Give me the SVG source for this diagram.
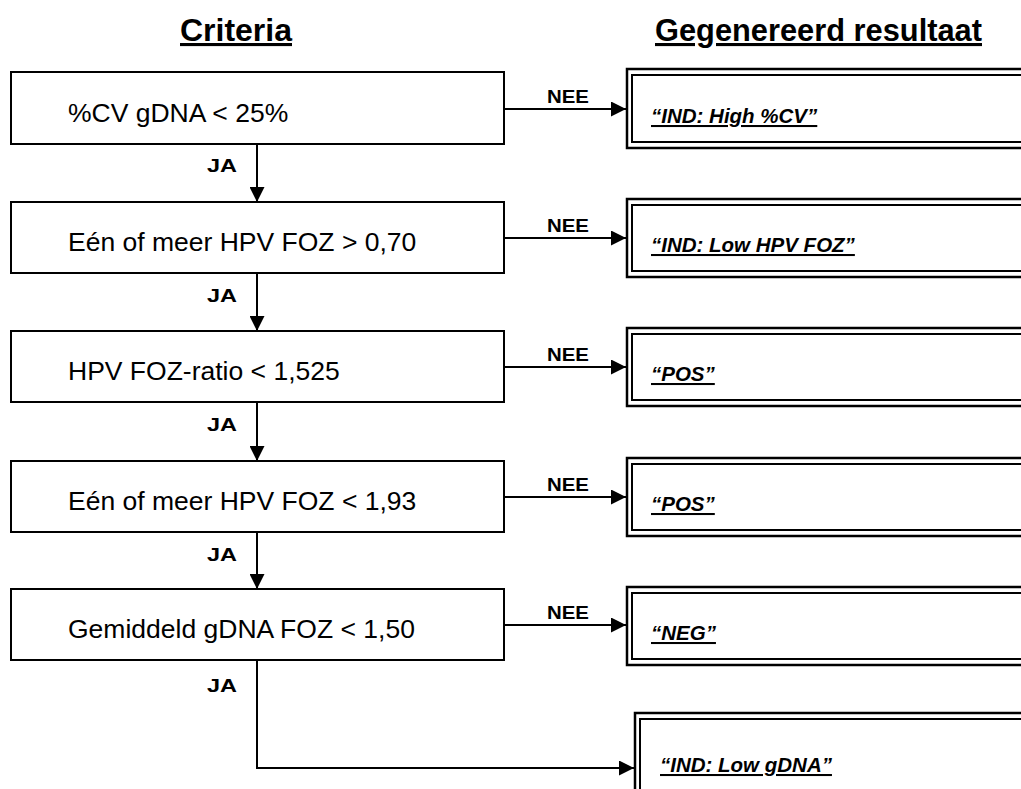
<svg xmlns="http://www.w3.org/2000/svg" width="1021" height="789" viewBox="0 0 1021 789">
  <defs>
    <marker id="arrow" viewBox="0 0 10 10" refX="10" refY="5" markerWidth="7.5" markerHeight="7.5" markerUnits="strokeWidth" orient="auto">
      <path d="M0,0 L10,5 L0,10 Z" fill="#000"/>
    </marker>
    <style>
      .crit { fill: #fff; stroke: #000; stroke-width: 2; }
      .res-out { fill: #fff; stroke: #000; stroke-width: 2.5; }
      .res-in { fill: none; stroke: #000; stroke-width: 2; }
      .head { font-family: "Liberation Sans", Arial, sans-serif; font-weight: bold; font-size: 31px; text-decoration: underline; }
      .ctext { font-family: "Liberation Sans", Arial, sans-serif; font-size: 26.5px; }
      .rtext { font-family: "Liberation Sans", Arial, sans-serif; font-weight: bold; font-style: italic; font-size: 20.5px; text-decoration: underline; }
      .lbl { font-family: "Liberation Sans", Arial, sans-serif; font-weight: bold; font-size: 18.5px; }
      .conn { fill: none; stroke: #000; stroke-width: 2; marker-end: url(#arrow); }
    </style>
  </defs>
  <rect width="1021" height="789" fill="#fff"/>

  <!-- column headings -->
  <g id="headings">
    <text class="head" x="180" y="41" textLength="112" lengthAdjust="spacingAndGlyphs">Criteria</text>
    <text class="head" x="655" y="41" textLength="327" lengthAdjust="spacingAndGlyphs">Gegenereerd resultaat</text>
  </g>

  <!-- connectors -->
  <g id="connectors">
    <line class="conn" x1="257" y1="144" x2="257" y2="202"/>
    <line class="conn" x1="257" y1="273" x2="257" y2="331"/>
    <line class="conn" x1="257" y1="402" x2="257" y2="461"/>
    <line class="conn" x1="257" y1="532" x2="257" y2="589"/>
    <polyline class="conn" points="257,660 257,768 634,768"/>
    <line class="conn" x1="504" y1="109" x2="626" y2="109"/>
    <line class="conn" x1="504" y1="238" x2="626" y2="238"/>
    <line class="conn" x1="504" y1="367" x2="626" y2="367"/>
    <line class="conn" x1="504" y1="497" x2="626" y2="497"/>
    <line class="conn" x1="504" y1="625" x2="626" y2="625"/>
    <text class="lbl" x="207" y="172" textLength="30" lengthAdjust="spacingAndGlyphs">JA</text>
    <text class="lbl" x="207" y="302" textLength="30" lengthAdjust="spacingAndGlyphs">JA</text>
    <text class="lbl" x="207" y="431" textLength="30" lengthAdjust="spacingAndGlyphs">JA</text>
    <text class="lbl" x="207" y="561" textLength="30" lengthAdjust="spacingAndGlyphs">JA</text>
    <text class="lbl" x="207" y="692" textLength="30" lengthAdjust="spacingAndGlyphs">JA</text>
    <text class="lbl" x="547" y="103" textLength="42" lengthAdjust="spacingAndGlyphs">NEE</text>
    <text class="lbl" x="547" y="232" textLength="42" lengthAdjust="spacingAndGlyphs">NEE</text>
    <text class="lbl" x="547" y="361" textLength="42" lengthAdjust="spacingAndGlyphs">NEE</text>
    <text class="lbl" x="547" y="491" textLength="42" lengthAdjust="spacingAndGlyphs">NEE</text>
    <text class="lbl" x="547" y="619" textLength="42" lengthAdjust="spacingAndGlyphs">NEE</text>
  </g>

  <!-- criteria -->
  <g id="crit-cv">
    <rect class="crit" x="11" y="72" width="493" height="72"/>
    <text class="ctext" x="68" y="122">%CV gDNA &lt; 25%</text>
  </g>
  <g id="crit-hpv-min">
    <rect class="crit" x="11" y="202" width="493" height="71"/>
    <text class="ctext" x="68" y="251">Eén of meer HPV FOZ &gt; 0,70</text>
  </g>
  <g id="crit-ratio">
    <rect class="crit" x="11" y="331" width="493" height="71"/>
    <text class="ctext" x="68" y="380">HPV FOZ-ratio &lt; 1,525</text>
  </g>
  <g id="crit-hpv-max">
    <rect class="crit" x="11" y="461" width="493" height="71"/>
    <text class="ctext" x="68" y="510">Eén of meer HPV FOZ &lt; 1,93</text>
  </g>
  <g id="crit-gdna">
    <rect class="crit" x="11" y="589" width="493" height="71"/>
    <text class="ctext" x="68" y="638">Gemiddeld gDNA FOZ &lt; 1,50</text>
  </g>

  <!-- generated results -->
  <g id="res-high-cv">
    <rect class="res-out" x="627" y="69" width="420" height="79"/>
    <rect class="res-in" x="632" y="75" width="420" height="67"/>
    <text class="rtext" x="651" y="123">“IND: High %CV”</text>
  </g>
  <g id="res-low-hpv">
    <rect class="res-out" x="627" y="199" width="420" height="78"/>
    <rect class="res-in" x="632" y="205" width="420" height="66"/>
    <text class="rtext" x="651" y="252">“IND: Low HPV FOZ”</text>
  </g>
  <g id="res-pos-1">
    <rect class="res-out" x="627" y="328" width="420" height="78"/>
    <rect class="res-in" x="632" y="334" width="420" height="66"/>
    <text class="rtext" x="651" y="381">“POS”</text>
  </g>
  <g id="res-pos-2">
    <rect class="res-out" x="627" y="458" width="420" height="78"/>
    <rect class="res-in" x="632" y="464" width="420" height="66"/>
    <text class="rtext" x="651" y="511">“POS”</text>
  </g>
  <g id="res-neg">
    <rect class="res-out" x="627" y="587" width="420" height="78"/>
    <rect class="res-in" x="632" y="593" width="420" height="66"/>
    <text class="rtext" x="651" y="640">“NEG”</text>
  </g>
  <g id="res-low-gdna">
    <rect class="res-out" x="635" y="713" width="420" height="90"/>
    <rect class="res-in" x="640" y="719" width="420" height="90"/>
    <text class="rtext" x="660" y="772">“IND: Low gDNA”</text>
  </g>
</svg>
